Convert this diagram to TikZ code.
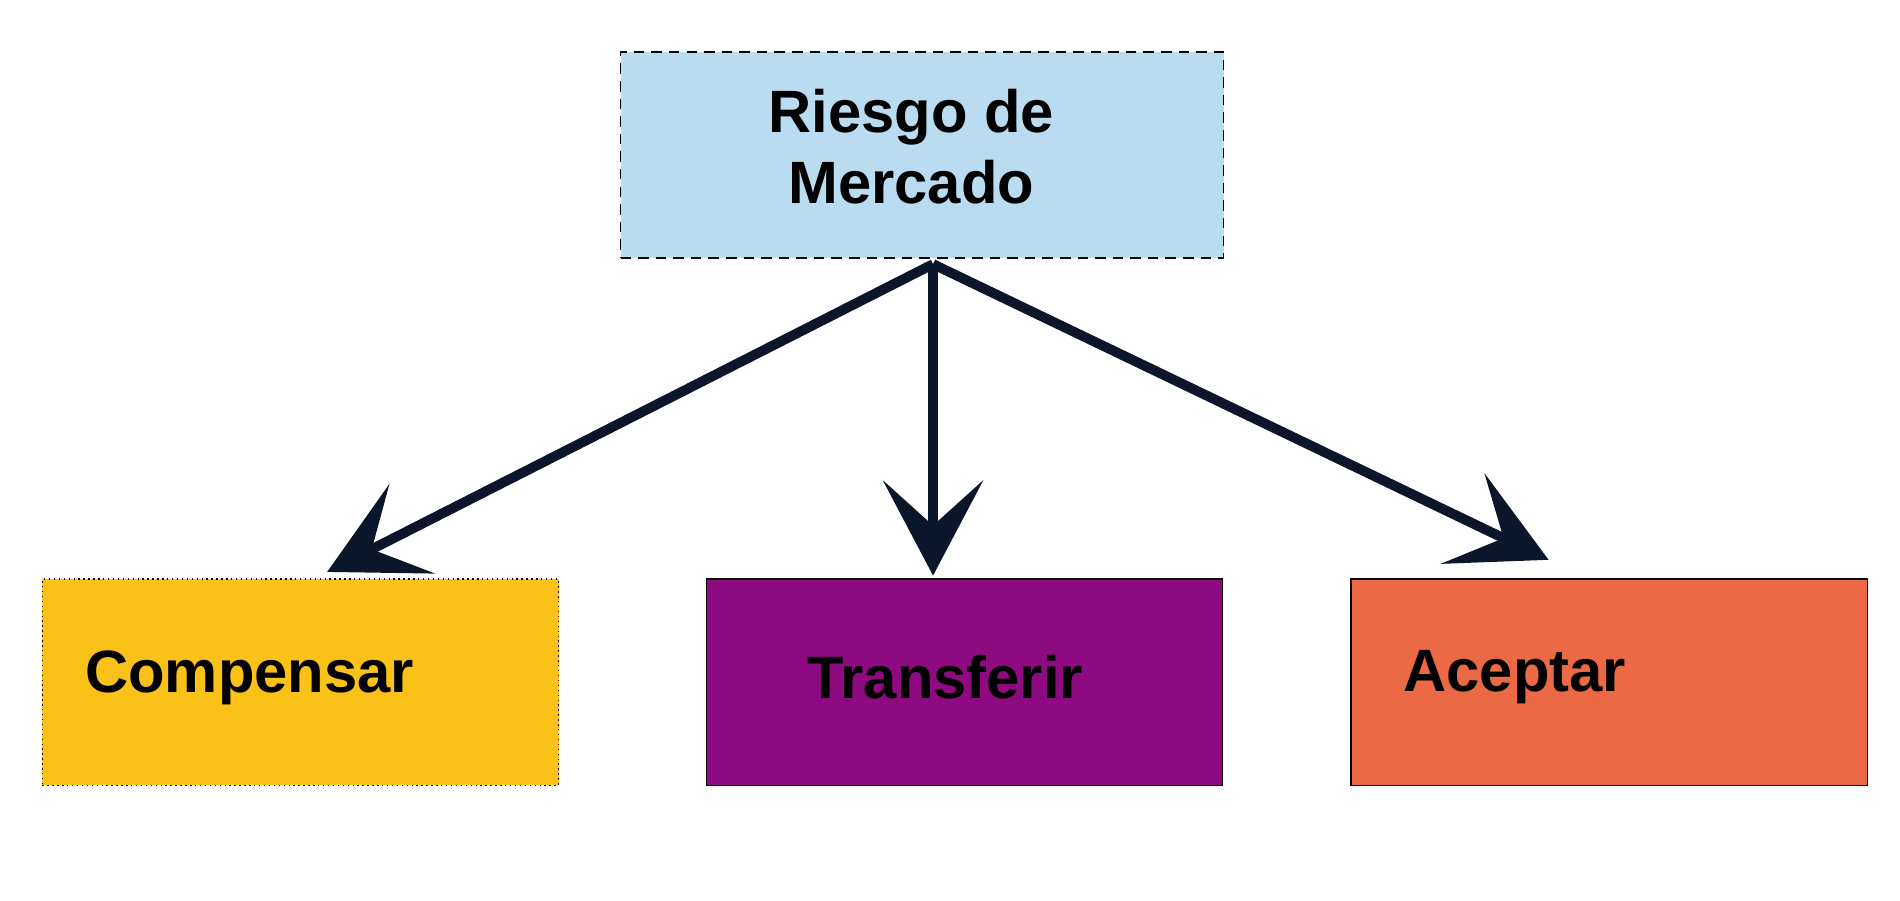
\documentclass[tikz,border=0pt]{standalone}
\usepackage{fontspec}
\setmainfont{Liberation Sans}
\usetikzlibrary{arrows.meta}
\definecolor{skyblue}{RGB}{186,220,240}
\definecolor{gold}{RGB}{250,193,25}
\definecolor{plum}{RGB}{142,10,128}
\definecolor{coral}{RGB}{235,105,68}
\definecolor{navy}{RGB}{12,22,42}
\begin{document}
\begin{tikzpicture}[x=0.012117cm, y=-0.012117cm,
  box/.style={draw=black, line width=0.4pt, minimum width=5.16cm, minimum height=2.06cm, inner sep=0pt},
  lbl/.style={font=\bfseries\fontsize{17}{20}\selectfont, align=center},
  flow/.style={navy, line width=2.8pt, -{Stealth[length=0.95cm, width=1.0cm, inset=0.45cm]}}]
\useasboundingbox (0,0) rectangle (1568,743);

\node [box, densely dashed, fill=skyblue, minimum width=6.03cm] (riesgo) at (761,128) {};
\node [box, densely dotted, fill=gold] (comp) at (248,563) {};
\node [box, fill=plum] (trans) at (796,563) {};
\node [box, fill=coral] (acep) at (1328,563) {};

\node [lbl] (triesgo) at (752,121) {Riesgo de\\Mercado};
\node [lbl] (tcomp) at (206,559) {Compensar};
\node [lbl] (ttrans) at (780,559) {Transferir};
\node [lbl] (tacep) at (1250,559) {Aceptar};

\coordinate (src) at (770,218);
\coordinate (e1) at (270,472);
\coordinate (e2) at (770,475);
\coordinate (e3) at (1278,462);

\draw [flow] (src) -- (e1);
\draw [flow] (src) -- (e2);
\draw [flow] (src) -- (e3);
\end{tikzpicture}
\end{document}
